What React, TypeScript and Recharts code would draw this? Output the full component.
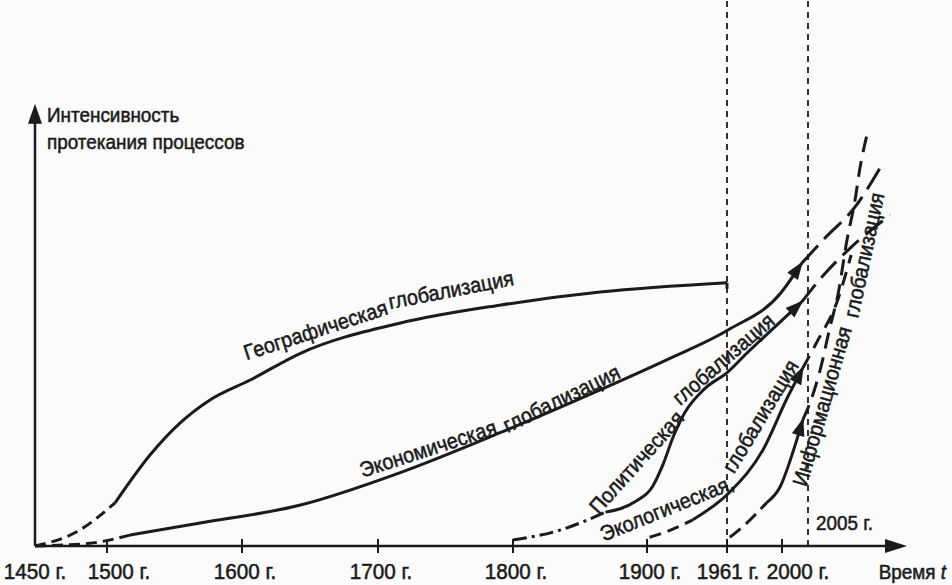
import { LineChart, Line, XAxis, YAxis, ReferenceLine, ReferenceDot } from "recharts";

const INK = "#1b1b1b";
const FONT = "'Liberation Sans', Arial, sans-serif";

const TICK_YEARS = [1450, 1500, 1600, 1700, 1800, 1900, 1961, 2000];
const Y_TOP = 81;

// the years are spaced unevenly on the original axis, so the x scale is piecewise
const SCALE_YEARS = [1450, 1500, 1600, 1700, 1800, 1900, 1961, 2000, 2005, 2050];
const SCALE_STEPS = [0, 72, 207, 343, 478, 612, 692, 747, 773, 872];

// [year, intensity 0..100]
const GEO_LEAD = [[1450, 0], [1479, 2.6], [1506, 7.9]];
const GEO_MAIN = [[1506, 7.9], [1532, 16.7], [1554, 22.5], [1576, 26.7], [1606, 30.4], [1643, 35.3], [1716, 40.8], [1790, 44.1], [1865, 46.5], [1961, 48.2]];
const GEO_END = [[1961, 48.2], [1961, 47.1]];

const ECON_LEAD = [[1450, 0], [1488, 0.5], [1517, 2.0]];
const ECON_MAIN = [[1517, 2.0], [1569, 4.2], [1643, 7.5], [1716, 13.4], [1790, 20.7], [1865, 28.6], [1915, 34.1], [1962, 39.6], [1999, 46.3], [2003.8, 51.8]];
const ECON_TAIL = [[2003.8, 51.8], [2012.7, 56.4], [2026.4, 62.1], [2037.7, 69.2]];

const POL_LEAD = [[1800, 1.1], [1835, 2.9], [1869, 6.2]];
const POL_MAIN = [[1869, 6.2], [1891, 8.1], [1904, 10.8], [1912, 14.8], [1920, 20.0], [1929, 24.5], [1943, 28.6], [1961.7, 31.9], [1975, 35.3], [1998.6, 41.0], [2003.8, 44.7]];
const POL_TAIL = [[2003.8, 44.7], [2011.4, 49.3], [2023.2, 54.2], [2042.3, 60.6]];

const ECO_LEAD = [[1902, 1.6], [1918, 2.9], [1935, 4.8]];
const ECO_MAIN = [[1935, 4.8], [1963, 9.9], [1986.5, 17.6], [2001, 27.1], [2004, 32.6]];
const ECO_TAIL = [[2004, 32.6], [2009.5, 37.7], [2018, 44.5], [2024.6, 53.3]];

const INFO_LEAD = [[1963, 1.6], [1975, 4.2], [1989, 7.9]];
const INFO_MAIN = [[1989, 7.9], [1998.6, 10.8], [2002.1, 17.2], [2004, 23.1]];
const INFO_TAIL = [[2004, 23.1], [2005.9, 26.2], [2010.5, 32.2], [2015, 40.1], [2018.6, 46.0], [2022.7, 56.0], [2026.4, 63.4], [2028.6, 69.2], [2031.8, 75.3]];

const CURVE_LABELS = [
  { text: "Географическая", year: 1654, v: 39.6, angle: -18 },
  { text: "глобализация", year: 1754, v: 47.0, angle: -11 },
  { text: "Экономическая", year: 1737, v: 17.9, angle: -18 },
  { text: "глобализация", year: 1836, v: 27.1, angle: -26 },
  { text: "Политическая", year: 1892, v: 15.4, angle: -48 },
  { text: "глобализация", year: 1958, v: 34.3, angle: -41 },
  { text: "Экологическая,", year: 1915, v: 7.0, angle: -22 },
  { text: "глобализация", year: 1984.4, v: 23.8, angle: -59 },
  { text: "Информационная", year: 2011.2, v: 25.6, angle: -74 },
  { text: "глобализация", year: 2030.3, v: 53.3, angle: -78 },
];

const TICK_NUDGE: Record<number, number> = { 1450: 0, 1500: 12, 1961: 1, 2000: 16 };

const rows = (pts: number[][]) => pts.map(([year, v]) => ({ year, v }));

function makeYearScale(): any {
  let domain = [SCALE_YEARS[0], SCALE_YEARS[SCALE_YEARS.length - 1]];
  let range = [0, 1];
  const total = SCALE_STEPS[SCALE_STEPS.length - 1];
  const toUnit = (v: number) => {
    let i = 0;
    while (i < SCALE_YEARS.length - 2 && v > SCALE_YEARS[i + 1]) i++;
    const t = (v - SCALE_YEARS[i]) / (SCALE_YEARS[i + 1] - SCALE_YEARS[i]);
    return (SCALE_STEPS[i] + t * (SCALE_STEPS[i + 1] - SCALE_STEPS[i])) / total;
  };
  const scale: any = (v: number) => range[0] + toUnit(v) * (range[1] - range[0]);
  scale.domain = (d?: number[]) => {
    if (d === undefined) return domain.slice();
    domain = d.slice();
    return scale;
  };
  scale.range = (r?: number[]) => {
    if (r === undefined) return range.slice();
    range = r.slice();
    return scale;
  };
  scale.copy = () => makeYearScale().domain(domain).range(range);
  scale.ticks = () => TICK_YEARS.slice();
  scale.tickFormat = () => (v: number) => String(v);
  scale.invert = (px: number) => {
    const u = ((px - range[0]) / (range[1] - range[0])) * total;
    let i = 0;
    while (i < SCALE_STEPS.length - 2 && u > SCALE_STEPS[i + 1]) i++;
    const t = (u - SCALE_STEPS[i]) / (SCALE_STEPS[i + 1] - SCALE_STEPS[i]);
    return SCALE_YEARS[i] + t * (SCALE_YEARS[i + 1] - SCALE_YEARS[i]);
  };
  scale.clamp = () => scale;
  scale.nice = () => scale;
  return scale;
}

const yearScale = makeYearScale();

// condensed print look: regular face squeezed horizontally
function Txt({ x, y, angle = 0, anchor = "start", baseline, size = 21, narrow = 0.9, children }: any) {
  return (
    <text
      x={0}
      y={0}
      transform={`translate(${x},${y}) rotate(${angle}) scale(${narrow},1)`}
      textAnchor={anchor}
      dominantBaseline={baseline}
      fontFamily={FONT}
      fontSize={size}
      fill={INK}
      stroke={INK}
      strokeWidth={0.55}
    >
      {children}
    </text>
  );
}

function ArrowHead(props: any) {
  const { cx, cy, index, points } = props;
  if (!points || index !== points.length - 1) return <g key={`a-${index}`} />;
  const p = points[index - 1];
  const a = (Math.atan2(cy - p.y, cx - p.x) * 180) / Math.PI;
  return (
    <polygon
      key={`a-${index}`}
      points="2,0 -16,-6.5 -16,6.5"
      fill={INK}
      transform={`translate(${cx},${cy}) rotate(${a})`}
    />
  );
}

function YearTick(props: any) {
  const { x, y, payload } = props;
  const year = payload.value;
  return (
    <g>
      {year !== 1450 && <line x1={x} x2={x} y1={y - 7} y2={y + 7} stroke={INK} strokeWidth={2} />}
      <Txt x={x + (TICK_NUDGE[year] ?? 3)} y={y + 33} anchor="middle" size={22} narrow={0.94}>
        {year} г.
      </Txt>
    </g>
  );
}

function YAxisArrow(props: any) {
  const { x1, y1, y2 } = props;
  return (
    <g>
      <line x1={x1} x2={x1} y1={y1} y2={y2 + 12} stroke={INK} strokeWidth={2.5} />
      <polygon points={`${x1},${y2} ${x1 - 7},${y2 + 20} ${x1 + 7},${y2 + 20}`} fill={INK} />
      <Txt x={x1 + 12} y={y2 + 18}>Интенсивность</Txt>
      <Txt x={x1 + 12} y={y2 + 45}>протекания процессов</Txt>
    </g>
  );
}

function XAxisArrow(props: any) {
  const { x1, x2, y1 } = props;
  return (
    <g>
      <line x1={x1} x2={x2 - 14} y1={y1} y2={y1} stroke={INK} strokeWidth={2.5} />
      <polygon points={`${x2},${y1} ${x2 - 22},${y1 - 7} ${x2 - 22},${y1 + 7}`} fill={INK} />
      <Txt x={946} y={y1 + 33} anchor="end">
        Время <tspan fontStyle="italic">t</tspan>
      </Txt>
    </g>
  );
}

export default function App() {
  const seg = (pts: number[][], dash?: string, arrow?: boolean, linear?: boolean) => (
    <Line
      data={rows(pts)}
      dataKey="v"
      type={linear ? "linear" : "monotone"}
      stroke={INK}
      strokeWidth={3}
      strokeDasharray={dash}
      dot={arrow ? ArrowHead : false}
      activeDot={false}
      isAnimationActive={false}
    />
  );

  return (
    <div style={{ position: "absolute", left: 0, top: 0, width: 952, height: 585, background: "#fbfbfb" }}>
      <LineChart width={952} height={585} margin={{ top: 0, right: 45, bottom: 0, left: 35 }}>
        <XAxis
          dataKey="year"
          type="number"
          scale={yearScale}
          domain={[1450, 2050]}
          ticks={TICK_YEARS}
          interval={0}
          axisLine={false}
          tickLine={false}
          tickSize={0}
          tickMargin={0}
          height={39}
          tick={YearTick}
        />
        <YAxis hide type="number" domain={[0, 100]} />

        <ReferenceLine x={1961} stroke={INK} strokeWidth={1.8} strokeDasharray="6 5" />
        <ReferenceLine
          x={2005}
          stroke={INK}
          strokeWidth={1.8}
          strokeDasharray="6 5"
          label={(p: any) => (
            <Txt x={p.viewBox.x + 8} y={p.viewBox.y + p.viewBox.height - 16}>
              2005 г.
            </Txt>
          )}
        />
        <ReferenceLine y={0} ifOverflow="visible" shape={XAxisArrow} />
        <ReferenceLine
          segment={[{ x: 1450, y: 0 }, { x: 1450, y: Y_TOP }]}
          ifOverflow="visible"
          shape={YAxisArrow}
        />

        {seg(GEO_LEAD, "11 6")}
        {seg(GEO_MAIN)}
        {seg(GEO_END, undefined, false, true)}

        {seg(ECON_LEAD, "11 6")}
        {seg(ECON_MAIN, undefined, true)}
        {seg(ECON_TAIL, "24 9")}

        {seg(POL_LEAD, "14 5 3 5")}
        {seg(POL_MAIN, undefined, true)}
        {seg(POL_TAIL, "22 9")}

        {seg(ECO_LEAD, "12 7")}
        {seg(ECO_MAIN, undefined, true)}
        {seg(ECO_TAIL, "14 9")}

        {seg(INFO_LEAD, "14 7")}
        {seg(INFO_MAIN, undefined, true)}
        {seg(INFO_TAIL, "16 9")}

        {CURVE_LABELS.map((l, i) => (
          <ReferenceDot
            key={i}
            x={l.year}
            y={l.v}
            r={0}
            ifOverflow="visible"
            shape={(p: any) => (
              <Txt x={p.cx} y={p.cy} angle={l.angle} anchor="middle" baseline="central" size={21.5} narrow={0.92}>
                {l.text}
              </Txt>
            )}
          />
        ))}
      </LineChart>
    </div>
  );
}
